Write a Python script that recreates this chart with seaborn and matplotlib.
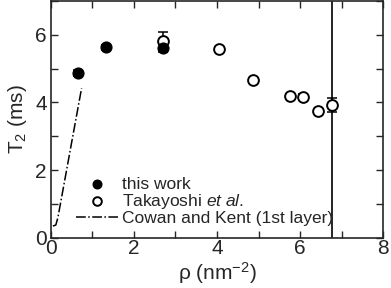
import numpy as np
import pandas as pd
import seaborn as sns
import matplotlib.pyplot as plt
from matplotlib.ticker import MultipleLocator

# this work (filled)
rho_this = [0.66, 1.34, 2.70]
t2_this = [4.87, 5.63, 5.60]
err_this = [0.10, 0.08, 0.12]

# Takayoshi et al. (open)
rho_tak = [2.70, 4.05, 4.87, 5.76, 6.08, 6.43, 6.77]
t2_tak = [5.81, 5.57, 4.66, 4.20, 4.16, 3.74, 3.93]
err_tak = [0.27, 0.07, 0.0, 0.06, 0.08, 0.0, 0.20]

# Cowan and Kent (1st layer)
rho_ck = [0.05, 0.12, 0.17, 0.74]
t2_ck = [0.35, 0.38, 0.60, 4.42]

vline_x = 6.77

sns.set_style("ticks")
plt.rcParams['font.family'] = ['Liberation Sans', 'DejaVu Sans']
plt.rcParams['mathtext.fontset'] = 'custom'
plt.rcParams['mathtext.rm'] = 'Liberation Sans'
plt.rcParams['mathtext.it'] = 'Liberation Sans:italic'

fig = plt.figure(figsize=(3.91, 2.88), dpi=100)
ax = fig.add_axes([0.130, 0.174, 0.850, 0.823])

ax.axvline(vline_x, color='black', lw=1.2, zorder=1)

ck = pd.DataFrame({'rho': rho_ck, 't2': t2_ck})
sns.lineplot(data=ck, x='rho', y='t2', ax=ax, color='black', lw=1.1,
             linestyle='-.', sort=False, label='Cowan and Kent (1st layer)', zorder=2)

ax.errorbar(rho_tak, t2_tak, yerr=err_tak, fmt='none', ecolor='black',
            elinewidth=1.1, capsize=3.5, capthick=1.1, zorder=3)
ax.errorbar(rho_this, t2_this, yerr=err_this, fmt='none', ecolor='black',
            elinewidth=1.1, capsize=3.5, capthick=1.1, zorder=3)

tak = pd.DataFrame({'rho': rho_tak, 't2': t2_tak})
sns.scatterplot(data=tak, x='rho', y='t2', ax=ax, marker='o', s=60,
                facecolor='white', edgecolor='black', linewidth=1.4,
                label='Takayoshi $et\\ al.$', zorder=4)
this = pd.DataFrame({'rho': rho_this, 't2': t2_this})
sns.scatterplot(data=this, x='rho', y='t2', ax=ax, marker='o', s=60,
                color='black', edgecolor='black', linewidth=1.0,
                label='this work', zorder=5)

ax.set_xlim(0, 8)
ax.set_ylim(0, 7)
ax.xaxis.set_major_locator(MultipleLocator(2))
ax.xaxis.set_minor_locator(MultipleLocator(1))
ax.yaxis.set_major_locator(MultipleLocator(2))
ax.yaxis.set_minor_locator(MultipleLocator(1))
ax.tick_params(which='both', direction='in', top=True, right=True, width=1.0)
ax.tick_params(which='major', length=5, labelsize=15)
ax.tick_params(axis='x', which='major', pad=1)
ax.tick_params(axis='y', which='major', pad=3)
ax.tick_params(which='minor', length=5)
for s in ax.spines.values():
    s.set_linewidth(1.2)

ax.set_xlabel('ρ (nm$^{-2}$)', fontsize=15, labelpad=1)
ax.set_ylabel('T$_2$ (ms)', fontsize=15, labelpad=4)

h, l = ax.get_legend_handles_labels()
order = [2, 1, 0]
ax.legend([h[i] for i in order], [l[i] for i in order], loc='lower left',
          bbox_to_anchor=(0.04, 0.0), frameon=False, fontsize=12.5,
          handlelength=2.4, handletextpad=0.25, labelspacing=0.0, borderpad=0.2,
          markerscale=0.8)

plt.savefig('out.png', dpi=100)
